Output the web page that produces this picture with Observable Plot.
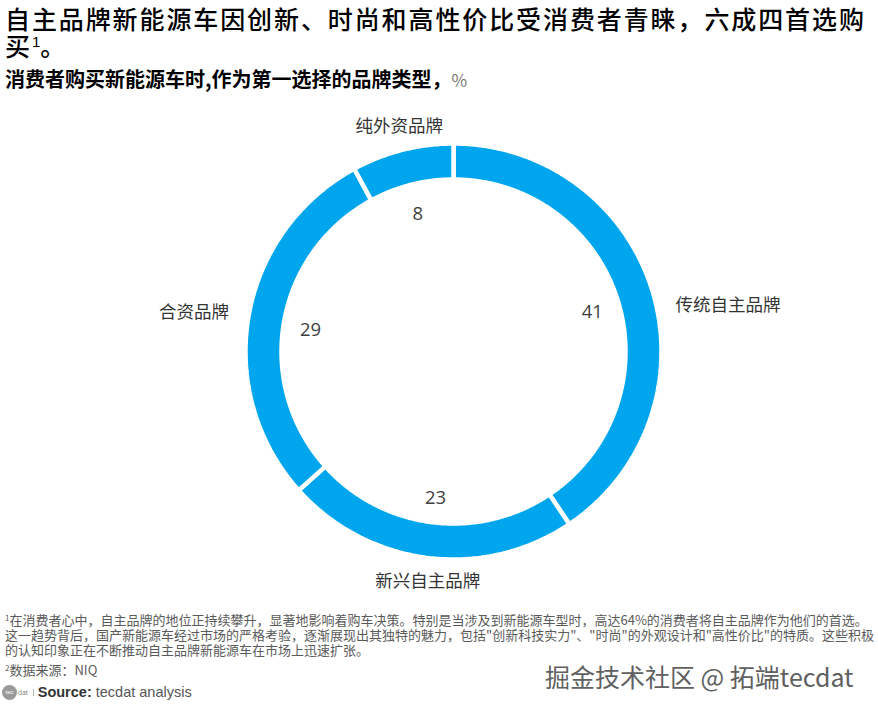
<!DOCTYPE html>
<html>
<head>
<meta charset="utf-8">
<script src="https://cdn.jsdelivr.net/npm/d3@7"></script>
<script src="https://cdn.jsdelivr.net/npm/@observablehq/plot@0.6"></script>
<style>
  html, body { margin: 0; padding: 0; background: #fff; }
  body { width: 878px; height: 710px; overflow: hidden; position: relative; font-family: "Noto Sans CJK SC", "Noto Sans", sans-serif; }
  #title { position: absolute; left: 5px; top: 5px; font-size: 25px; line-height: 27px; letter-spacing: 1.9px; font-weight: 500; color: #000; white-space: nowrap; }
  #title sup { font-size: 15px; vertical-align: 9px; line-height: 0; font-family: "Liberation Sans", Arial, sans-serif; font-weight: 400; letter-spacing: 0; }
  #subtitle { position: absolute; left: 5px; top: 66px; font-size: 20px; line-height: 26px; font-weight: 700; color: #000; white-space: nowrap; }
  #subtitle .pct { color: #777; font-weight: 400; font-size: 17px; }
  #chart { position: absolute; left: 0; top: 95px; }
  #notes { position: absolute; left: 5px; top: 612px; font-size: 13px; line-height: 15px; color: #5a5a5a; white-space: nowrap; }
  #notes sup { font-size: 8px; vertical-align: 4px; line-height: 0; }
  #src2 { position: absolute; left: 5px; top: 662px; font-size: 13px; line-height: 16px; color: #5a5a5a; white-space: nowrap; }
  #src2 sup { font-size: 8px; vertical-align: 4px; line-height: 0; }
  #source { position: absolute; left: 2px; top: 684px; font-family: "Liberation Sans", Arial, sans-serif; font-size: 14.5px; color: #555; white-space: nowrap; display: flex; align-items: center; }
  #source .logo { display: inline-block; width: 15px; height: 15px; border-radius: 50%; background: #999; color: #fff; font-size: 6px; line-height: 15px; text-align: center; }
  #source .logo2 { font-size: 7px; color: #888; margin-left: 1px; margin-right: 4px; padding-right: 5px; border-right: 1px solid #bbb; }
  #source b { color: #333; margin-right: 4px; }
  #wm { position: absolute; left: 545px; top: 661px; font-size: 25px; line-height: 30px; color: #606060; white-space: nowrap; text-shadow: -1px -1px 0 #fff, 1px -1px 0 #fff, -1px 1px 0 #fff, 1px 1px 0 #fff; }
</style>
</head>
<body>
<div id="title">自主品牌新能源车因创新、时尚和高性价比受消费者青睐，六成四首选购<br>买<sup>1</sup>。</div>
<div id="subtitle">消费者购买新能源车时,作为第一选择的品牌类型，<span class="pct">%</span></div>
<div id="chart"></div>
<div id="notes"><sup>1</sup>在消费者心中，自主品牌的地位正持续攀升，显著地影响着购车决策。特别是当涉及到新能源车型时，高达64%的消费者将自主品牌作为他们的首选。<br>这一趋势背后，国产新能源车经过市场的严格考验，逐渐展现出其独特的魅力，包括"创新科技实力"、"时尚"的外观设计和"高性价比"的特质。这些积极<br>的认知印象正在不断推动自主品牌新能源车在市场上迅速扩张。</div>
<div id="src2"><sup>2</sup>数据来源：NIQ</div>
<div id="wm">掘金技术社区 @ 拓端tecdat</div>
<div id="source"><span class="logo">tec</span><span class="logo2">dat</span><b>Source:</b>tecdat analysis</div>

<script>
// ---- data ----
const categories = ["传统自主品牌", "新兴自主品牌", "合资品牌", "纯外资品牌"];
const values = [41, 23, 29, 8];

// ---- layout ----
const W = 878, H = 510;
const CX = 453, CY = 256;      // ring centre inside the svg (px)
const R = 208;                 // px per data unit (outer radius incl. white stroke)
const INNER = 172 / R;         // inner radius in data units
const LABEL_R = 145 / R;       // value label radius
const CAT_R = 232 / R;         // category label radius

const total = d3.sum(values);
let acc = 0;
const slices = categories.map((c, i) => {
  const a0 = acc / total * 2 * Math.PI;
  acc += values[i];
  const a1 = acc / total * 2 * Math.PI;
  return {category: c, value: values[i], a0, a1, mid: (a0 + a1) / 2};
});

// ring polygons in data space (angle clockwise from 12 o'clock)
const ring = slices.flatMap(s => {
  const n = Math.max(4, Math.ceil((s.a1 - s.a0) / 0.01));
  const pts = [];
  for (let k = 0; k <= n; k++) {
    const a = s.a0 + (s.a1 - s.a0) * k / n;
    pts.push({category: s.category, x: Math.sin(a), y: Math.cos(a)});
  }
  for (let k = n; k >= 0; k--) {
    const a = s.a0 + (s.a1 - s.a0) * k / n;
    pts.push({category: s.category, x: INNER * Math.sin(a), y: INNER * Math.cos(a)});
  }
  pts.push({...pts[0]});
  return pts;
});

const valueLabels = slices.map(s => ({text: String(s.value), x: LABEL_R * Math.sin(s.mid), y: LABEL_R * Math.cos(s.mid)}));
const catLabels = slices.map(s => ({text: s.category, x: CAT_R * Math.sin(s.mid), y: CAT_R * Math.cos(s.mid), s: Math.sin(s.mid)}));
const rightLabels = catLabels.filter(d => d.s > 0.5);
const leftLabels = catLabels.filter(d => d.s < -0.5);
const midLabels = catLabels.filter(d => Math.abs(d.s) <= 0.5);

const catFont = {fontFamily: "Noto Sans CJK SC", fontSize: 17.5, fill: "#333", fontWeight: 400};

const chart = Plot.plot({
  width: W,
  height: H,
  margin: 0,
  x: {domain: [-CX / R, (W - CX) / R], axis: null},
  y: {domain: [-(H - CY) / R, CY / R], axis: null},
  style: {background: "transparent", overflow: "visible"},
  marks: [
    Plot.line(ring, {x: "x", y: "y", z: "category", fill: "#00a6ed", stroke: "#fff", strokeWidth: 4.5, strokeLinejoin: "miter", curve: "linear"}),
    Plot.text(valueLabels, {x: "x", y: "y", text: "text", fontFamily: "Open Sans", fontSize: 18.5, fill: "#404040", dy: 3}),
    Plot.text(rightLabels, {x: "x", y: "y", text: "text", textAnchor: "start", dy: 21, ...catFont}),
    Plot.text(leftLabels, {x: "x", y: "y", text: "text", textAnchor: "end", dx: 4, ...catFont}),
    Plot.text(midLabels, {x: "x", y: "y", text: "text", textAnchor: "middle", dx: 3, ...catFont})
  ]
});
document.getElementById("chart").appendChild(chart);
</script>
</body>
</html>
